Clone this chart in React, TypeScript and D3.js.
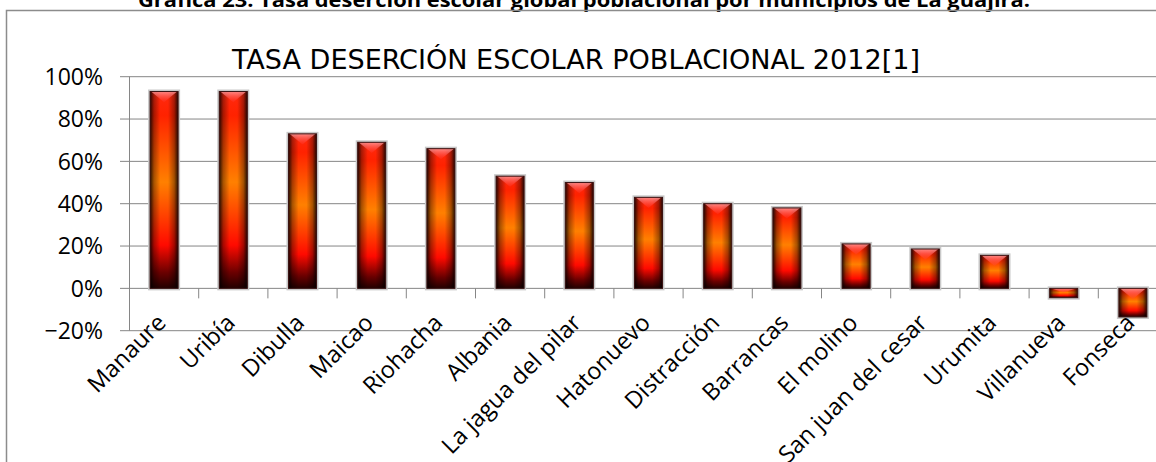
import React from 'react';
import * as d3 from 'd3';

// values
const municipios = [
  'Manaure', 'Uribía', 'Dibulla', 'Maicao', 'Riohacha', 'Albania', 'La jagua del pilar',
  'Hatonuevo', 'Distracción', 'Barrancas', 'El molino', 'San juan del cesar', 'Urumita',
  'Villanueva', 'Fonseca',
];
const tasa = [0.93, 0.93, 0.73, 0.69, 0.66, 0.53, 0.50, 0.43, 0.40, 0.38, 0.21, 0.186, 0.156, -0.044, -0.135];
const yTicks = [-0.2, 0, 0.2, 0.4, 0.6, 0.8, 1];

const pageTitle = 'Gráfica 23. Tasa deserción escolar global poblacional por municipios de La guajira.';
const chartTitle = 'TASA DESERCIÓN ESCOLAR POBLACIONAL 2012[1]';

const W = 1156;
const H = 462;

const App: React.FC = () => {
  const x = d3.scaleBand<string>().domain(municipios).range([129.5, 1167.5]).paddingInner(0).paddingOuter(0);
  const y = d3.scaleLinear().domain([-0.2, 1]).range([330.7, 76.7]);
  const fmt = d3.format('.0%');
  const step = x.step();
  const bw = step * 0.405;
  const left = x.range()[0];
  const y0 = y(0);

  return (
    <svg width={W} height={H} style={{ position: 'absolute', left: 0, top: 0, display: 'block' }}
      fontFamily="'Open Sans', 'Noto Sans', sans-serif">
      <defs>
        <linearGradient id="barV" x1="0" y1="0" x2="0" y2="1">
          <stop offset="0" stopColor="#ff2a10" />
          <stop offset="0.12" stopColor="#ff2200" />
          <stop offset="0.46" stopColor="#ff8000" />
          <stop offset="0.78" stopColor="#ff0a00" />
          <stop offset="0.92" stopColor="#6a0000" />
          <stop offset="1" stopColor="#220000" />
        </linearGradient>
        <linearGradient id="barH" x1="0" y1="0" x2="1" y2="0">
          <stop offset="0" stopColor="#000" stopOpacity="0.85" />
          <stop offset="0.14" stopColor="#000" stopOpacity="0.35" />
          <stop offset="0.36" stopColor="#000" stopOpacity="0" />
          <stop offset="0.64" stopColor="#000" stopOpacity="0" />
          <stop offset="0.86" stopColor="#000" stopOpacity="0.35" />
          <stop offset="1" stopColor="#000" stopOpacity="0.85" />
        </linearGradient>
        <linearGradient id="cap" x1="0" y1="0" x2="0" y2="1">
          <stop offset="0" stopColor="#ff9a9a" stopOpacity="0.85" />
          <stop offset="1" stopColor="#ff4040" stopOpacity="0.2" />
        </linearGradient>
      </defs>

      <rect x={0} y={0} width={W} height={H} fill="#fff" />

      {/* page caption, cut off at the top like in the source */}
      <text x={584} y={6.5} textAnchor="middle" fontWeight="bold" fontSize={20} fill="#000"
        textLength={892} lengthAdjust="spacingAndGlyphs">{pageTitle}</text>

      {/* chart frame */}
      <path d={`M6.5,${H} V10.5 H${W}`} fill="none" stroke="#8c8c8c" strokeWidth={1.5} />

      {/* chart title */}
      <text x={576} y={69} textAnchor="middle" fontSize={27} fill="#000"
        fontFamily="'DejaVu Sans Condensed', 'Liberation Sans Narrow', 'Liberation Sans', sans-serif"
        textLength={688} lengthAdjust="spacingAndGlyphs">{chartTitle}</text>

      {/* gridlines + y ticks */}
      {yTicks.map(t => (
        <g key={t}>
          <line x1={120} x2={W} y1={y(t)} y2={y(t)} stroke="#868686" strokeWidth={1} />
          <text x={103} y={y(t)} dy="0.36em" textAnchor="end" fontSize={23} fill="#000">{fmt(t)}</text>
        </g>
      ))}
      <line x1={left} x2={left} y1={y(1)} y2={y(-0.2)} stroke="#868686" strokeWidth={1} />

      {/* category ticks on the zero line */}
      {municipios.slice(1).map(m => (
        <line key={m} x1={x(m)} x2={x(m)} y1={y0} y2={y0 + 10} stroke="#868686" strokeWidth={1} />
      ))}

      {/* bars */}
      {municipios.map((m, i) => {
        const v = tasa[i];
        const cx = (x(m) as number) + step / 2;
        const bx = cx - bw / 2;
        const top = Math.min(y(v), y0);
        const h = Math.abs(y(v) - y0);
        const capH = Math.min(bw * 0.38, h * 0.45);
        return (
          <g key={m}>
            <rect x={bx - 1} y={top - 1} width={bw + 2} height={h + 2} fill="none" stroke="#c8c8c8" strokeWidth={2} />
            <rect x={bx} y={top} width={bw} height={h} fill="url(#barV)" />
            <rect x={bx} y={top} width={bw} height={h} fill="url(#barH)" />
            <polygon points={`${bx + 1},${top} ${bx + bw - 1},${top} ${cx},${top + capH}`} fill="url(#cap)" />
            <rect x={bx} y={top} width={bw} height={h} fill="none" stroke="#3a1414" strokeWidth={1} />
          </g>
        );
      })}

      {/* category labels */}
      {municipios.map(m => {
        const cx = (x(m) as number) + step / 2;
        const ax = cx - 11;
        const ay = 310;
        return (
          <text key={m} x={ax} y={ay} textAnchor="end" dominantBaseline="hanging" fontSize={23.5} fill="#000"
            transform={`rotate(-45,${ax},${ay})`}>{m}</text>
        );
      })}
    </svg>
  );
};

export default App;
